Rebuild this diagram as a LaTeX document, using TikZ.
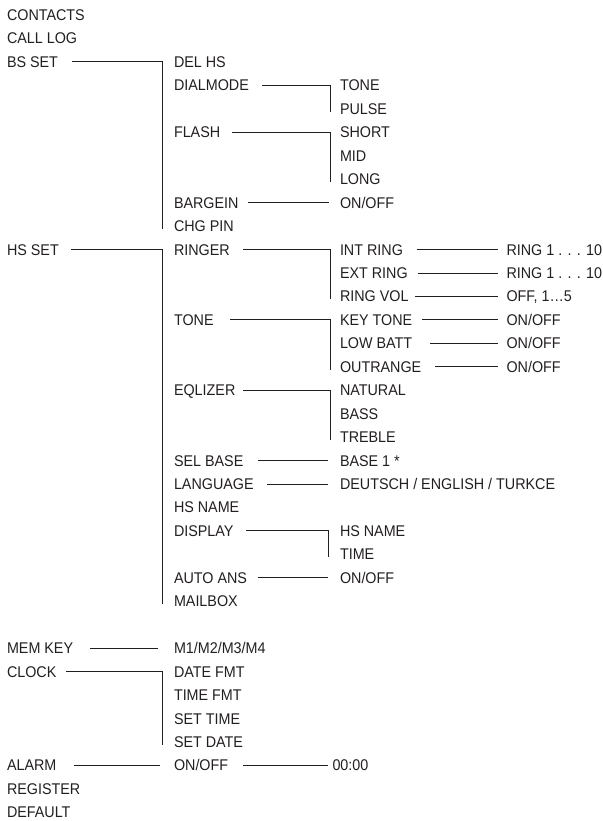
\documentclass[tikz,border=0pt]{standalone}
\usepackage{fontspec}
\setmainfont{Liberation Sans}[FakeStretch=0.925]
\definecolor{ink}{HTML}{231F20}
\tikzset{
  t/.style={anchor=base west, inner sep=0pt, outer sep=0pt, text height=11pt, text depth=0pt,
    font=\fontsize{15.5}{18}\selectfont, text=ink},
  ln/.style={draw=ink, line width=0.9pt}
}
\newcommand{\rowy}[1]{20.5+23.45*#1}
\begin{document}
\begin{tikzpicture}[x=1pt,y=-1pt]
\useasboundingbox (0,0) rectangle (602,821);
% level 0
\node[t] (contacts) at (7,{\rowy{0}}) {CONTACTS};
\node[t] (calllog) at (7,{\rowy{1}}) {CALL LOG};
\node[t] (bsset) at (7,{\rowy{2}}) {BS SET};
\node[t] (hsset) at (7,{\rowy{10}}) {HS SET};
\node[t] (memkey) at (7,{\rowy{27}}) {MEM KEY};
\node[t] (clock) at (7,{\rowy{28}}) {CLOCK};
\node[t] (alarm) at (7,{\rowy{32}}) {ALARM};
\node[t] (register) at (7,{\rowy{33}}) {REGISTER};
\node[t] (default) at (7,{\rowy{34}}) {DEFAULT};
% level 1
\node[t] (delhs) at (174,{\rowy{2}}) {DEL HS};
\node[t] (dialmode) at (174,{\rowy{3}}) {DIALMODE};
\node[t] (flash) at (174,{\rowy{5}}) {FLASH};
\node[t] (bargein) at (174,{\rowy{8}}) {BARGEIN};
\node[t] (chgpin) at (174,{\rowy{9}}) {CHG PIN};
\node[t] (ringer) at (174,{\rowy{10}}) {RINGER};
\node[t] (tone) at (174,{\rowy{13}}) {TONE};
\node[t] (eqlizer) at (174,{\rowy{16}}) {EQLIZER};
\node[t] (selbase) at (174,{\rowy{19}}) {SEL BASE};
\node[t] (language) at (174,{\rowy{20}}) {LANGUAGE};
\node[t] (hsname) at (174,{\rowy{21}}) {HS NAME};
\node[t] (display) at (174,{\rowy{22}}) {DISPLAY};
\node[t] (autoans) at (174,{\rowy{24}}) {AUTO ANS};
\node[t] (mailbox) at (174,{\rowy{25}}) {MAILBOX};
\node[t] (mkeys) at (174,{\rowy{27}}) {M1/M2/M3/M4};
\node[t] (datefmt) at (174,{\rowy{28}}) {DATE FMT};
\node[t] (timefmt) at (174,{\rowy{29}}) {TIME FMT};
\node[t] (settime) at (174,{\rowy{30}}) {SET TIME};
\node[t] (setdate) at (174,{\rowy{31}}) {SET DATE};
\node[t] (alarmonoff) at (174,{\rowy{32}}) {ON/OFF};
% level 2
\node[t] (dtone) at (340,{\rowy{3}}) {TONE};
\node[t] (pulse) at (340,{\rowy{4}}) {PULSE};
\node[t] (short) at (340,{\rowy{5}}) {SHORT};
\node[t] (mid) at (340,{\rowy{6}}) {MID};
\node[t] (long) at (340,{\rowy{7}}) {LONG};
\node[t] (bgonoff) at (340,{\rowy{8}}) {ON/OFF};
\node[t] (intring) at (340,{\rowy{10}}) {INT RING};
\node[t] (extring) at (340,{\rowy{11}}) {EXT RING};
\node[t] (ringvol) at (340,{\rowy{12}}) {RING VOL};
\node[t] (keytone) at (340,{\rowy{13}}) {KEY TONE};
\node[t] (lowbatt) at (340,{\rowy{14}}) {LOW BATT};
\node[t] (outrange) at (340,{\rowy{15}}) {OUTRANGE};
\node[t] (natural) at (340,{\rowy{16}}) {NATURAL};
\node[t] (bass) at (340,{\rowy{17}}) {BASS};
\node[t] (treble) at (340,{\rowy{18}}) {TREBLE};
\node[t] (base1) at (340,{\rowy{19}}) {BASE 1 *};
\node[t] (langs) at (340,{\rowy{20}}) {DEUTSCH / ENGLISH / TURKCE};
\node[t] (dhsname) at (340,{\rowy{22}}) {HS NAME};
\node[t] (dtime) at (340,{\rowy{23}}) {TIME};
\node[t] (aaonoff) at (340,{\rowy{24}}) {ON/OFF};
\node[t] (alarmtime) at (332.5,{\rowy{32}}) {00:00};
% level 3
\node[t] (intval) at (506.5,{\rowy{10}}) {RING 1 . . . 10};
\node[t] (extval) at (506.5,{\rowy{11}}) {RING 1 . . . 10};
\node[t] (volval) at (506.5,{\rowy{12}}) {OFF, 1…5};
\node[t] (ktval) at (506.5,{\rowy{13}}) {ON/OFF};
\node[t] (lbval) at (506.5,{\rowy{14}}) {ON/OFF};
\node[t] (orval) at (506.5,{\rowy{15}}) {ON/OFF};
% connectors level 0 -> 1
\draw[ln] ([xshift=65pt]bsset.west) -| ([xshift=-12pt,yshift=-3pt]chgpin.west);
\draw[ln] ([xshift=64pt]hsset.west) -| ([xshift=-12pt,yshift=-3pt]mailbox.west);
\draw[ln] ([xshift=83pt]memkey.west) -- ([xshift=-16pt]mkeys.west);
\draw[ln] ([xshift=59pt]clock.west) -| ([xshift=-12pt,yshift=-3pt]setdate.west);
\draw[ln] ([xshift=67pt]alarm.west) -- ([xshift=-14pt]alarmonoff.west);
% level 1 -> 2
\draw[ln] ([xshift=88pt]dialmode.west) -| ([xshift=-10pt,yshift=-3pt]pulse.west);
\draw[ln] ([xshift=58pt]flash.west) -| ([xshift=-10pt,yshift=-3pt]long.west);
\draw[ln] ([xshift=74pt]bargein.west) -- ([xshift=-11pt]bgonoff.west);
\draw[ln] ([xshift=69pt]ringer.west) -| ([xshift=-10pt,yshift=-3pt]ringvol.west);
\draw[ln] ([xshift=56pt]tone.west) -| ([xshift=-10pt,yshift=-3pt]outrange.west);
\draw[ln] ([xshift=69pt]eqlizer.west) -| ([xshift=-10pt,yshift=-3pt]treble.west);
\draw[ln] ([xshift=84pt]selbase.west) -- ([xshift=-12pt]base1.west);
\draw[ln] ([xshift=93pt]language.west) -- ([xshift=-12pt]langs.west);
\draw[ln] ([xshift=72pt]display.west) -| ([xshift=-12pt,yshift=-3pt]dtime.west);
\draw[ln] ([xshift=84pt]autoans.west) -- ([xshift=-12pt]aaonoff.west);
\draw[ln] ([xshift=69pt]alarmonoff.west) -- ([xshift=-4.5pt]alarmtime.west);
% level 2 -> 3
\draw[ln] ([xshift=76.7pt]intring.west) -- ([xshift=-8.5pt]intval.west);
\draw[ln] ([xshift=78pt]extring.west) -- ([xshift=-8.5pt]extval.west);
\draw[ln] ([xshift=75pt]ringvol.west) -- ([xshift=-8.5pt]volval.west);
\draw[ln] ([xshift=82pt]keytone.west) -- ([xshift=-8.5pt]ktval.west);
\draw[ln] ([xshift=90pt]lowbatt.west) -- ([xshift=-8.5pt]lbval.west);
\draw[ln] ([xshift=95pt]outrange.west) -- ([xshift=-8.5pt]orval.west);
\end{tikzpicture}
\end{document}
